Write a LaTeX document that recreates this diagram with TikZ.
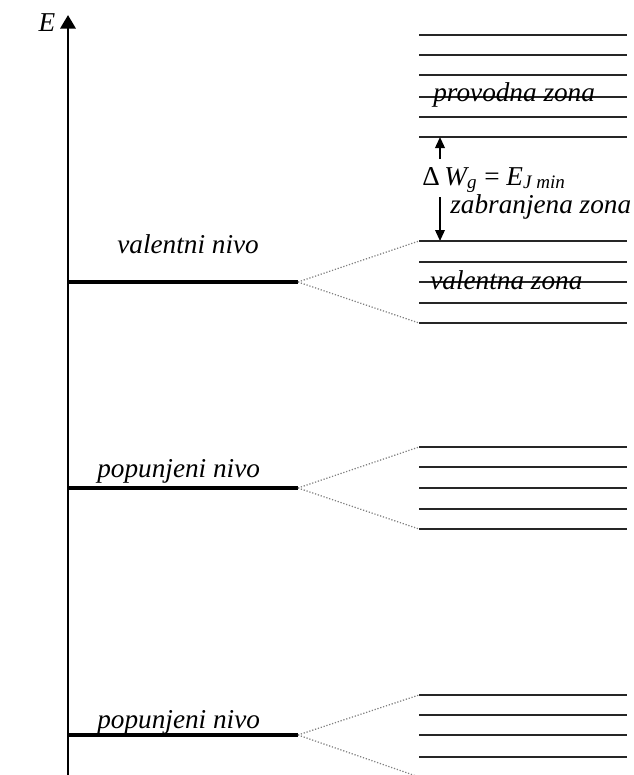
\documentclass[tikz,border=0pt]{standalone}
\usepackage{fontspec}
\setmainfont{Liberation Serif}
\usetikzlibrary{
    arrows.meta,
    positioning,
    calc
}

\tikzset{
    axis/.style={line width=1.7pt, -{Triangle[length=0.27cm, width=0.3cm]}},
    level/.style={line width=2.4pt},
    bandline/.style={line width=1.4pt, black!85},
    split/.style={gray, densely dotted, line width=0.7pt},
    gaparrow/.style={line width=1.1pt, -{Triangle[length=0.22cm, width=0.19cm]}},
    lbl/.style={font=\fontsize{15.5}{18}\selectfont\itshape, inner sep=0pt}
}

\begin{document}
\begin{tikzpicture}[x=0.02cm, y=-0.02cm]
    \clip (0,0) rectangle (634,775);

    % Energy axis
    \coordinate (axbot) at (68,775);
    \coordinate (axtop) at (68,15);
    \draw[axis] (axbot) -- (axtop);
    \node[lbl] (elbl) at (47,23) {E};

    % Conduction band
    \foreach \y in {35,55,75,97,117,137}
        \draw[bandline] (419,\y) -- (627,\y);
    \node[lbl, anchor=base west] (cblbl) at (433,101) {provodna zona};

    % Band gap
    \coordinate (gaptop) at (440,137);
    \coordinate (gapbot) at (440,241);
    \coordinate (upstart) at (440,159);
    \coordinate (dnstart) at (440,197);
    \draw[gaparrow] (upstart) -- (gaptop);
    \draw[gaparrow] (dnstart) -- (gapbot);
    \node[lbl, anchor=base west] (gaplbl) at (422,185)
        {\upshape Δ\,\itshape W\textsubscript{g} \upshape= \itshape E\textsubscript{J min}};
    \node[lbl, anchor=base west] (zzlbl) at (450,213) {zabranjena zona};

    % Valence level and valence band
    \coordinate (vstart) at (68,282);
    \coordinate (vend) at (298,282);
    \coordinate (vbtop) at (419,241);
    \coordinate (vbbot) at (419,323);
    \draw[level] (vstart) -- (vend);
    \node[lbl, anchor=base west] (vlbl) at (117,253) {valentni nivo};
    \draw[split] (vend) -- (vbtop);
    \draw[split] (vend) -- (vbbot);
    \foreach \y in {241,262,282,303,323}
        \draw[bandline] (419,\y) -- (627,\y);
    \node[lbl, anchor=base west] (vblbl) at (430,289) {valentna zona};

    % First filled level
    \coordinate (pastart) at (68,488);
    \coordinate (paend) at (298,488);
    \coordinate (patop) at (419,447);
    \coordinate (pabot) at (419,529);
    \draw[level] (pastart) -- (paend);
    \node[lbl, anchor=base west] (palbl) at (97,477) {popunjeni nivo};
    \draw[split] (paend) -- (patop);
    \draw[split] (paend) -- (pabot);
    \foreach \y in {447,467,488,509,529}
        \draw[bandline] (419,\y) -- (627,\y);

    % Second filled level
    \coordinate (pbstart) at (68,735);
    \coordinate (pbend) at (298,735);
    \coordinate (pbtop) at (419,695);
    \coordinate (pbbot) at (419,777);
    \draw[level] (pbstart) -- (pbend);
    \node[lbl, anchor=base west] (pblbl) at (97,728) {popunjeni nivo};
    \draw[split] (pbend) -- (pbtop);
    \draw[split] (pbend) -- (pbbot);
    \foreach \y in {695,715,735,757}
        \draw[bandline] (419,\y) -- (627,\y);

\end{tikzpicture}
\end{document}
